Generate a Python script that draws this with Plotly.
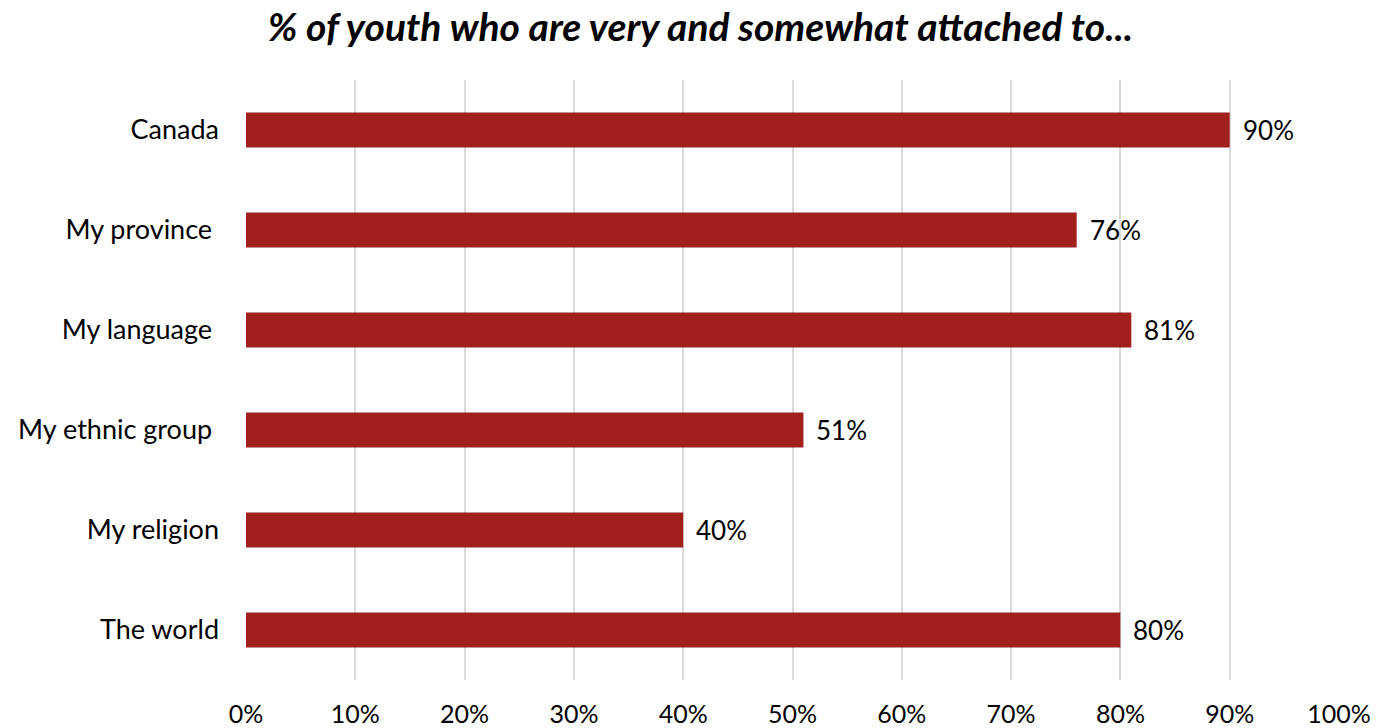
import plotly.graph_objects as go

categories = ["Canada", "My province ", "My language ", "My ethnic group ", "My religion", "The world"]
values = [90, 76, 81, 51, 40, 80]
tick_vals = [0, 10, 20, 30, 40, 50, 60, 70, 80, 90, 100]
tick_text = ["0%", "10%", "20%", "30%", "40%", "50%", "60%", "70%", "80%", "90%", "100%"]

BAR = "#A1201E"
FONT = "Lato, 'DejaVu Sans', sans-serif"

fig = go.Figure(go.Bar(
    x=values,
    y=categories,
    orientation="h",
    marker=dict(color=BAR, line=dict(width=0)),
    width=0.35,
    hoverinfo="skip",
))

# value labels to the right of each bar
for cat, v in zip(categories, values):
    fig.add_annotation(
        x=v, y=cat, text=f"{v}%", showarrow=False,
        xanchor="left", yanchor="middle", xshift=11,
        font=dict(family=FONT, size=26, color="black"),
    )

fig.update_layout(
    width=1376, height=728,
    margin=dict(l=246, r=37, t=80, b=48),
    paper_bgcolor="white", plot_bgcolor="white",
    showlegend=False,
    title=dict(
        text="<b><i>% of youth who are very and somewhat attached to...</i></b>",
        x=0.509, xanchor="center", y=0.963, yanchor="middle",
        font=dict(family=FONT, size=39, color="black"),
    ),
    xaxis=dict(
        range=[0, 100], tickvals=tick_vals, ticktext=tick_text,
        showgrid=True, gridcolor="#D9D9D9", gridwidth=2,
        zeroline=False, showline=False, ticks="",
        tickfont=dict(family=FONT, size=25, color="black"),
        ticklabelstandoff=17, automargin=False,
    ),
    yaxis=dict(
        autorange="reversed", showgrid=False, zeroline=False,
        showline=False, ticks="",
        tickfont=dict(family=FONT, size=27, color="black"),
        ticklabelstandoff=26, automargin=False,
    ),
)

fig.write_html("out.html")
